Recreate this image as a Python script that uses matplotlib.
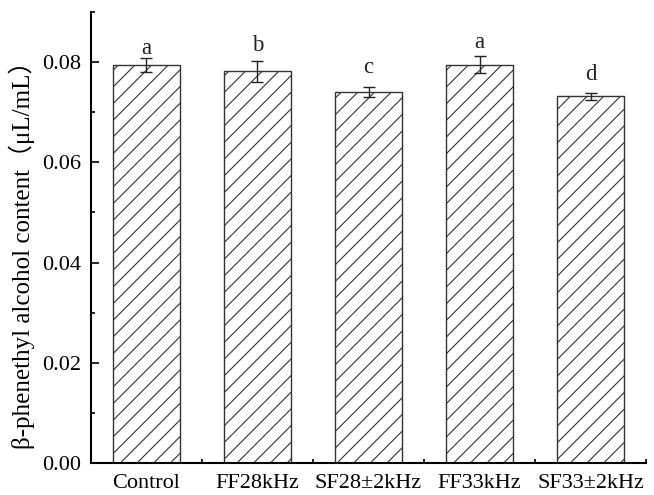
import matplotlib.pyplot as plt
from matplotlib.ticker import MultipleLocator, FixedLocator, FormatStrFormatter

groups = ['Control', 'FF28kHz', 'SF28±2kHz', 'FF33kHz', 'SF33±2kHz']
content = [0.0794, 0.0782, 0.0740, 0.0795, 0.0732]
errors = [0.0014, 0.0021, 0.0010, 0.0017, 0.0007]
letters = ['a', 'b', 'c', 'a', 'd']
# gap (points) between error-bar cap and the letter baseline, as in the figure
letter_gap = [3.2, 6.7, 10.4, 5.5, 8.9]

plt.rcParams['font.family'] = ['Liberation Serif', 'Noto Sans CJK SC']
plt.rcParams['hatch.color'] = '#333333'
plt.rcParams['hatch.linewidth'] = 0.8

fig = plt.figure(figsize=(6.54, 4.95), dpi=100)
ax = fig.add_axes([0.139, 0.0646, 0.849, 0.9114])

x = list(range(len(groups)))
ax.bar(x, content, width=0.6, color='white', edgecolor='#333333', linewidth=1.0,
       hatch='//', zorder=2)
ax.errorbar(x, content, yerr=errors, fmt='none', ecolor='#222222', elinewidth=1.0,
            capsize=4, capthick=1.0, zorder=3)

for xi, v, e, t, g in zip(x, content, errors, letters, letter_gap):
    ax.annotate(t, (xi, v + e), xytext=(0, g), textcoords='offset points',
                ha='center', va='baseline', fontsize=16.5, color='#222222')

ax.set_xlim(-0.5, 4.5)
ax.set_ylim(0, 0.09)
ax.set_xticks(x)
ax.set_xticklabels(groups)
ax.xaxis.set_minor_locator(FixedLocator([0.5, 1.5, 2.5, 3.5, 4.5]))
ax.yaxis.set_major_locator(MultipleLocator(0.02))
ax.yaxis.set_minor_locator(MultipleLocator(0.01))
ax.yaxis.set_major_formatter(FormatStrFormatter('%.2f'))

ax.tick_params(which='major', direction='in', length=6, width=1.2, labelsize=16, pad=7)
ax.tick_params(which='minor', direction='in', length=3, width=1.2)
ax.tick_params(axis='x', which='major', pad=8)

for s in ['top', 'right']:
    ax.spines[s].set_visible(False)
for s in ['left', 'bottom']:
    ax.spines[s].set_linewidth(1.5)

ax.set_ylabel('β-phenethyl alcohol content（μL/mL）', fontsize=18)
ax.yaxis.set_label_coords(-0.100, 0.4745)

fig.savefig('out.png', dpi=100)
